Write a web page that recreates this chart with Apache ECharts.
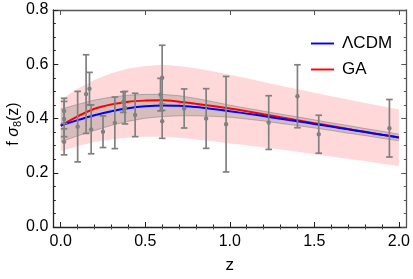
<!DOCTYPE html>
<html>
<head>
<meta charset="utf-8">
<script src="https://cdn.jsdelivr.net/npm/echarts@6/dist/echarts.min.js"></script>
<style>html,body{margin:0;padding:0;background:#fff}#c{width:413px;height:279px}</style>
</head>
<body>
<div id="c"></div>
<script>
// ---- data ----
const zGrid = [0,0.1,0.2,0.3,0.4,0.5,0.6,0.7,0.8,0.9,1.0,1.1,1.2,1.3,1.4,1.5,1.6,1.7,1.8,1.9,2.0];
const lcdm = [0.374,0.394,0.412,0.427,0.438,0.445,0.448,0.447,0.442,0.435,0.427,0.418,0.409,0.399,0.390,0.380,0.370,0.360,0.350,0.340,0.330];
const ga   = [0.374,0.408,0.436,0.452,0.462,0.466,0.467,0.462,0.454,0.446,0.437,0.427,0.416,0.405,0.394,0.383,0.372,0.361,0.351,0.340,0.330];
const gaHi = [0.470,0.510,0.543,0.567,0.584,0.594,0.598,0.594,0.585,0.574,0.561,0.548,0.535,0.521,0.508,0.495,0.482,0.470,0.457,0.445,0.433];
const gaLo = [0.279,0.298,0.313,0.323,0.330,0.333,0.333,0.329,0.323,0.316,0.308,0.301,0.293,0.286,0.277,0.268,0.260,0.251,0.243,0.233,0.224];
const lcdmHi = [0.434,0.452,0.468,0.479,0.486,0.489,0.489,0.484,0.474,0.462,0.449,0.438,0.427,0.416,0.406,0.395,0.384,0.374,0.363,0.353,0.342];
const lcdmLo = [0.314,0.336,0.356,0.375,0.390,0.401,0.407,0.410,0.410,0.408,0.405,0.398,0.391,0.382,0.374,0.365,0.356,0.346,0.337,0.327,0.318];
const obsZ   = [0.02,0.02,0.02,0.10,0.15,0.17,0.18,0.38,0.25,0.37,0.32,0.59,0.44,0.60,0.73,0.60,0.86,1.40,0.978,1.23,1.526,1.944];
const obsF   = [0.428,0.398,0.314,0.370,0.490,0.510,0.360,0.440,0.3512,0.4602,0.384,0.488,0.413,0.390,0.437,0.550,0.400,0.482,0.379,0.385,0.342,0.364];
const obsErr = [0.0465,0.065,0.048,0.130,0.145,0.060,0.090,0.060,0.0583,0.0378,0.095,0.060,0.080,0.063,0.072,0.120,0.110,0.116,0.176,0.099,0.070,0.106];
const xMajor = [0,0.5,1.0,1.5,2.0];
const xMinor = [0.1,0.2,0.3,0.4,0.6,0.7,0.8,0.9,1.1,1.2,1.3,1.4,1.6,1.7,1.8,1.9];
const seriesNames = ['ΛCDM','GA'];

// ---- chart ----
const chart = echarts.init(document.getElementById('c'), null, {renderer:'canvas'});
const FONT = '"Liberation Sans", Arial, sans-serif';
const X_MIN = -0.044, X_MAX = 2.044;

function bandSeries(lo, hi, fill, edge, z) {
  return {
    type:'custom', z:z, silent:true,
    data: zGrid.map((x,i)=>[x, lo[i], hi[i]]),
    renderItem: function(params, api) {
      if (params.dataIndex !== 0) return null;
      const top = zGrid.map((x,i)=>api.coord([x, hi[i]]));
      const bot = zGrid.map((x,i)=>api.coord([x, lo[i]])).reverse();
      const children = [{type:'polygon', shape:{points: top.concat(bot), smooth:0}, style:{fill:fill}}];
      if (edge) {
        children.push({type:'polyline', shape:{points: top}, style:{stroke:edge, lineWidth:1, fill:null}});
        children.push({type:'polyline', shape:{points: bot}, style:{stroke:edge, lineWidth:1, fill:null}});
      }
      return {type:'group', children: children};
    }
  };
}

const LINE_ICON = 'path://M0,0 L24,0 L24,2 L0,2 Z';
const xAxisBase = {type:'value', min:X_MIN, max:X_MAX, splitLine:{show:false}};
const option = {
  animation:false,
  grid:{left:53.3, right:6.3, top:10, bottom:51.3, containLabel:false},
  legend:{
    data: seriesNames.map(n=>({name:n, icon:LINE_ICON})), orient:'vertical', left:306, top:30,
    itemWidth:23, itemHeight:14, itemGap:9,
    textStyle:{fontFamily:FONT, fontSize:17, color:'#000', padding:[0,0,0,3]}
  },
  xAxis:[
    Object.assign({}, xAxisBase, {position:'bottom',
      axisLine:{show:true, onZero:false, lineStyle:{color:'#222', width:1.3}},
      axisTick:{show:true, inside:true, length:5, customValues:xMajor, lineStyle:{color:'#222'}},
      axisLabel:{show:true, customValues:xMajor, formatter:v=>v.toFixed(1), fontFamily:FONT, fontSize:16, color:'#000', margin:7},
      name:'z', nameLocation:'middle', nameGap:30, nameTextStyle:{fontFamily:FONT, fontSize:17, color:'#000'}}),
    Object.assign({}, xAxisBase, {position:'bottom',
      axisLine:{show:false}, axisLabel:{show:false},
      axisTick:{show:true, inside:true, length:2.5, customValues:xMinor, lineStyle:{color:'#222'}}}),
    Object.assign({}, xAxisBase, {position:'top',
      axisLine:{show:true, onZero:false, lineStyle:{color:'#555', width:1.3}}, axisLabel:{show:false},
      axisTick:{show:true, inside:true, length:5, customValues:xMajor, lineStyle:{color:'#555'}}}),
    Object.assign({}, xAxisBase, {position:'top',
      axisLine:{show:false}, axisLabel:{show:false},
      axisTick:{show:true, inside:true, length:2.5, customValues:xMinor, lineStyle:{color:'#555'}}})
  ],
  yAxis:[
    {type:'value', position:'left', min:0, max:0.8, interval:0.2, splitLine:{show:false},
     axisLine:{show:true, onZero:false, lineStyle:{color:'#222', width:1.3}},
     axisTick:{show:true, inside:true, length:5, lineStyle:{color:'#222'}},
     minorTick:{show:true, splitNumber:4, length:2.5, lineStyle:{color:'#222'}},
     axisLabel:{formatter:v=>v.toFixed(1), fontFamily:FONT, fontSize:16, color:'#000', margin:5}},
    {type:'value', position:'right', min:0, max:0.8, interval:0.2, splitLine:{show:false},
     axisLine:{show:true, onZero:false, lineStyle:{color:'#555', width:1.3}},
     axisTick:{show:true, inside:true, length:5, lineStyle:{color:'#555'}},
     minorTick:{show:true, splitNumber:4, length:2.5, lineStyle:{color:'#555'}},
     axisLabel:{show:false}}
  ],
  graphic:[{
    type:'text', x:14, y:124, rotation:Math.PI/2,
    style:{
      text:'{a|f }{s|σ}{b|8}{a|(z)}', align:'center', verticalAlign:'middle',
      rich:{
        a:{fontFamily:FONT, fontSize:16, fill:'#000'},
        s:{fontFamily:FONT, fontSize:16, fill:'#000', fontStyle:'italic'},
        b:{fontFamily:FONT, fontSize:11, fill:'#000', padding:[8,0,0,0]}
      }
    }
  }],
  series:[
    bandSeries(gaLo, gaHi, 'rgba(255,0,0,0.15)', null, 1),
    bandSeries(lcdmLo, lcdmHi, 'rgba(110,110,110,0.28)', 'rgba(110,110,110,0.45)', 2),
    {name:'GA', type:'line', z:3, smooth:0.35, symbol:'none', data: zGrid.map((x,i)=>[x, ga[i]]),
     lineStyle:{color:'#ff0000', width:2}, itemStyle:{color:'#ff0000'}},
    {name:'ΛCDM', type:'line', z:4, smooth:0.35, symbol:'none', data: zGrid.map((x,i)=>[x, lcdm[i]]),
     lineStyle:{color:'#0000ff', width:2}, itemStyle:{color:'#0000ff'}},
    {type:'custom', z:5, silent:true,
     data: obsZ.map((x,i)=>[x, obsF[i], obsErr[i]]),
     renderItem:function(params, api){
       const x = api.value(0), f = api.value(1), e = api.value(2);
       const p = api.coord([x, f]), t = api.coord([x, f+e]), b = api.coord([x, f-e]);
       const col = 'rgb(128,128,128)', cw = 3.3;
       const st = {stroke:col, lineWidth:1.7};
       return {type:'group', children:[
         {type:'line', shape:{x1:t[0], y1:t[1], x2:b[0], y2:b[1]}, style:st},
         {type:'line', shape:{x1:t[0]-cw, y1:t[1], x2:t[0]+cw, y2:t[1]}, style:st},
         {type:'line', shape:{x1:b[0]-cw, y1:b[1], x2:b[0]+cw, y2:b[1]}, style:st},
         {type:'circle', shape:{cx:p[0], cy:p[1], r:2.2}, style:{fill:col}}
       ]};
     }}
  ]
};
chart.setOption(option);
</script>
</body>
</html>
